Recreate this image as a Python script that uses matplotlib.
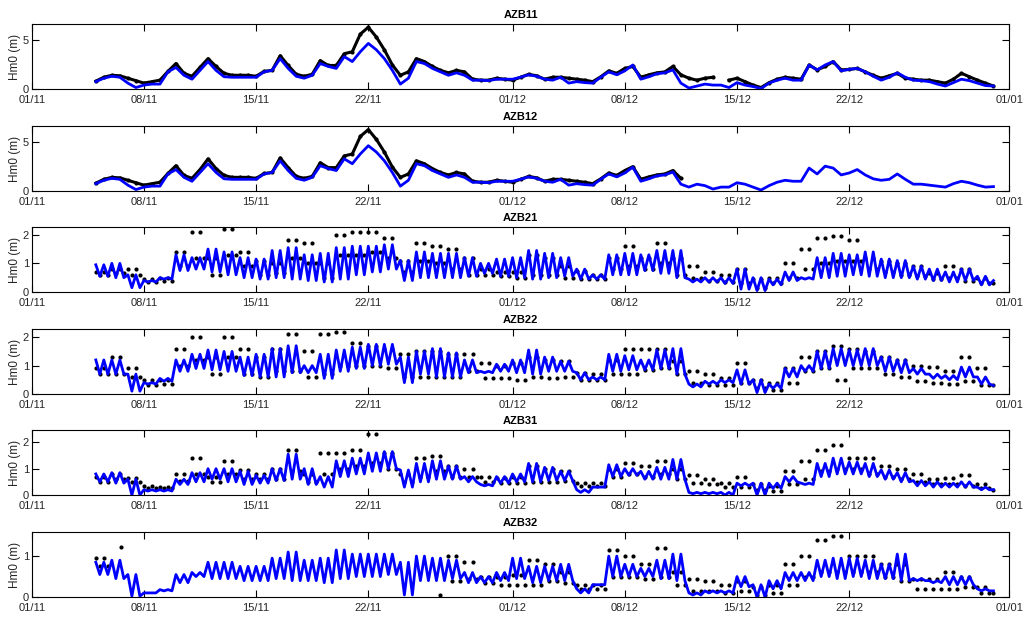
import numpy as np
import matplotlib.pyplot as plt

plt.rcParams['font.family'] = ['Liberation Sans', 'DejaVu Sans']

# station names, one panel each
stations = ['AZB11', 'AZB12', 'AZB21', 'AZB22', 'AZB31', 'AZB32']
ymax = [6.63, 6.67, 2.27, 2.29, 2.47, 1.59]
yticks = [[0, 5], [0, 5], [0, 1, 2], [0, 1, 2], [0, 1, 2], [0, 1]]

# x axis: days since 01/11
tick_days = [0, 7, 14, 21, 30, 37, 44, 51, 61]
tick_labels = ['01/11', '08/11', '15/11', '22/11', '01/12', '08/12', '15/12', '22/12', '01/01']

nan = np.nan

# AZB11 / AZB12 : values every 12 h from day 4 to day 60
azb11_mod = [0.75, 1.1, 1.3, 1.2, 0.6, 0.15, 0.4, 0.5, 0.5, 1.75,
             2.2, 1.4, 1.0, 1.9, 2.8, 1.9, 1.25, 1.2, 1.2, 1.2,
             1.2, 1.75, 1.9, 3.1, 2.1, 1.3, 1.1, 1.4, 2.6, 2.3,
             2.1, 3.3, 2.8, 3.8, 4.65, 4.0, 3.1, 1.9, 0.5, 1.1,
             2.8, 2.6, 2.1, 1.75, 1.4, 1.65, 1.4, 0.9, 0.9, 0.85,
             1.0, 1.0, 1.0, 1.2, 1.45, 1.3, 1.0, 0.9, 1.2, 0.6,
             0.75, 0.65, 0.6, 1.2, 1.75, 1.45, 1.85, 2.45, 1.0, 1.25,
             1.55, 1.65, 1.95, 0.6, 0.1, 0.3, 0.5, 0.4, 0.4, 0.15,
             0.65, 0.4, 0.25, 0.05, 0.6, 0.9, 1.1, 0.9, 0.9, 2.45,
             1.95, 2.45, 2.8, 1.85, 2.0, 2.1, 1.75, 1.3, 0.9, 1.2,
             1.65, 1.2, 0.9, 0.85, 0.75, 0.5, 0.3, 0.65, 1.0, 0.85,
             0.6, 0.35, 0.3]
azb11_obs = [0.8, 1.2, 1.4, 1.35, 1.1, 0.85, 0.6, 0.75, 0.9, 1.8,
             2.6, 1.6, 1.3, 2.2, 3.1, 2.3, 1.6, 1.4, 1.4, 1.4,
             1.3, 1.8, 1.9, 3.4, 2.4, 1.5, 1.3, 1.5, 2.9, 2.4,
             2.4, 3.6, 3.8, 5.6, 6.3, 5.3, 4.0, 2.45, 1.4, 1.75,
             3.1, 2.8, 2.3, 1.9, 1.65, 1.9, 1.75, 1.0, 0.9, 0.9,
             1.1, 1.0, 0.9, 1.2, 1.5, 1.35, 1.0, 1.2, 1.2, 1.1,
             1.0, 0.9, 0.75, 1.25, 1.85, 1.6, 2.1, 2.3, 1.2, 1.45,
             1.65, 1.75, 2.3, 1.45, 1.1, 0.9, 1.1, 1.2, nan, 0.9,
             1.1, 0.75, 0.4, 0.15, 0.65, 1.0, 1.2, 1.1, 1.0, 2.45,
             1.95, 2.3, 2.8, 1.95, 2.0, 2.1, 1.75, 1.4, 1.1, 1.35,
             1.6, 1.1, 1.0, 0.9, 0.9, 0.75, 0.6, 1.0, 1.6, 1.25,
             0.9, 0.6, 0.3]
azb12_mod = [0.75, 1.1, 1.3, 1.2, 0.6, 0.15, 0.4, 0.5, 0.5, 1.75,
             2.2, 1.4, 1.0, 1.9, 2.8, 1.9, 1.25, 1.2, 1.2, 1.2,
             1.2, 1.75, 1.9, 3.1, 2.1, 1.3, 1.1, 1.4, 2.6, 2.3,
             2.1, 3.3, 2.8, 3.8, 4.65, 4.0, 3.1, 1.9, 0.5, 1.1,
             2.8, 2.6, 2.1, 1.75, 1.4, 1.65, 1.4, 0.9, 0.9, 0.85,
             1.0, 1.0, 1.0, 1.2, 1.45, 1.3, 1.0, 0.9, 1.2, 0.6,
             0.75, 0.65, 0.6, 1.2, 1.75, 1.45, 1.85, 2.45, 1.0, 1.25,
             1.55, 1.65, 1.95, 0.7, 0.4, 0.7, 0.55, 0.2, 0.4, 0.4,
             0.85, 0.7, 0.4, 0.1, 0.55, 0.9, 1.1, 1.0, 1.0, 2.35,
             1.75, 2.55, 2.35, 1.65, 1.85, 2.2, 1.65, 1.25, 1.1, 1.2,
             1.75, 1.2, 0.7, 0.7, 0.6, 0.5, 0.4, 0.75, 1.0, 0.85,
             0.6, 0.4, 0.45]
azb12_obs = [0.8, 1.2, 1.4, 1.35, 1.1, 0.85, 0.6, 0.75, 0.9, 1.8,
             2.6, 1.6, 1.3, 2.2, 3.3, 2.3, 1.6, 1.4, 1.4, 1.4,
             1.3, 1.8, 1.9, 3.4, 2.4, 1.5, 1.3, 1.5, 2.9, 2.4,
             2.4, 3.6, 3.8, 5.6, 6.3, 5.3, 4.0, 2.45, 1.4, 1.75,
             3.1, 2.8, 2.3, 1.9, 1.65, 1.9, 1.75, 1.0, 0.9, 0.9,
             1.1, 1.0, 0.9, 1.2, 1.5, 1.35, 1.0, 1.2, 1.2, 1.1,
             1.0, 0.9, 0.75, 1.25, 1.85, 1.6, 2.1, 2.5, 1.2, 1.45,
             1.65, 1.75, 2.1, 1.3, nan, nan, nan, nan, nan, nan,
             nan, nan, nan, nan, nan, nan, nan, nan, nan, nan,
             nan, nan, nan, nan, nan, nan, nan, nan, nan, nan,
             nan, nan, nan, nan, nan, nan, nan, nan, nan, nan,
             nan, nan, nan]

# tidal stations: daily high / low of the semi-diurnal swing, days 4..59, plus value at day 60
azb21_mod_hi = [0.95, 1.0, 0.6, 0.4, 0.5, 1.3, 1.2, 1.5, 1.4, 1.2,
                1.15, 1.45, 1.55, 1.3, 1.35, 1.55, 1.6, 1.6, 1.65, 1.1,
                1.4, 1.35, 1.35, 1.2, 1.0, 1.15, 1.2, 1.45, 1.35, 1.2,
                0.8, 0.6, 1.3, 1.35, 1.3, 1.45, 1.45, 0.45, 0.5, 0.5,
                0.8, 0.5, 0.45, 0.7, 0.5, 1.2, 1.35, 1.3, 1.4, 1.15,
                1.1, 0.9, 0.8, 0.7, 0.8, 0.55]
azb21_mod_lo = [0.55, 0.5, 0.15, 0.35, 0.45, 0.75, 0.8, 0.7, 0.6, 0.5,
                0.45, 0.5, 0.45, 0.4, 0.35, 0.45, 0.6, 0.7, 0.8, 0.4,
                0.5, 0.5, 0.5, 0.55, 0.65, 0.55, 0.5, 0.45, 0.5, 0.55,
                0.45, 0.45, 0.6, 0.6, 0.75, 0.65, 0.5, 0.35, 0.35, 0.3,
                0.1, 0.05, 0.25, 0.4, 0.45, 0.5, 0.55, 0.6, 0.55, 0.5,
                0.5, 0.45, 0.4, 0.35, 0.4, 0.25]
azb21_mod_end = 0.4
azb21_obs_hi = [0.7, 0.8, 0.8, 0.45, 0.5, 1.4, 2.1, 1.2, 2.2, 1.4,
                1.1, 1.0, 1.8, 1.7, 1.0, 2.0, 2.1, 2.1, 1.9, 1.1,
                1.7, 1.6, 1.5, 1.2, 0.8, 0.7, 0.7, 1.3, 1.2, 0.9,
                0.75, 0.6, 1.2, 1.6, 1.2, 1.7, 1.2, 0.9, 0.7, 0.6,
                0.8, 0.45, 0.5, 1.0, 1.5, 1.9, 1.95, 1.8, 1.2, 1.1,
                1.0, 0.9, 0.65, 0.9, 0.8, 0.5]
azb21_obs_lo = [0.6, 0.65, 0.6, 0.35, 0.4, 0.9, 1.2, 0.6, 1.3, 0.9,
                0.6, 0.65, 1.2, 1.0, 0.5, 1.3, 1.3, 1.4, 1.2, 0.7,
                1.1, 1.0, 0.8, 0.6, 0.6, 0.55, 0.5, 0.6, 0.6, 0.5,
                0.45, 0.45, 0.8, 0.9, 0.8, 1.0, 0.6, 0.5, 0.4, 0.35,
                0.3, 0.15, 0.3, 0.5, 0.8, 1.0, 1.1, 1.1, 0.8, 0.7,
                0.6, 0.55, 0.45, 0.5, 0.4, 0.3]
azb21_obs_end = 0.3

azb22_mod_hi = [1.2, 1.2, 0.7, 0.4, 0.55, 1.2, 1.4, 1.55, 1.5, 1.3,
                1.4, 1.6, 1.7, 1.0, 1.4, 1.55, 1.65, 1.75, 1.75, 1.3,
                1.5, 1.6, 1.45, 1.2, 0.8, 1.05, 1.2, 1.55, 1.3, 1.15,
                0.75, 0.6, 1.4, 1.35, 1.2, 1.55, 1.6, 0.35, 0.45, 0.5,
                0.85, 0.5, 0.35, 0.9, 1.0, 1.5, 1.6, 1.55, 1.6, 1.3,
                1.2, 0.9, 0.7, 0.65, 0.95, 0.6]
azb22_mod_lo = [0.7, 0.7, 0.1, 0.35, 0.45, 0.8, 0.9, 0.85, 0.8, 0.65,
                0.6, 0.6, 0.75, 0.75, 0.55, 0.8, 0.9, 1.0, 1.05, 0.4,
                0.7, 0.6, 0.6, 0.75, 0.75, 0.8, 0.75, 0.7, 0.8, 0.8,
                0.5, 0.5, 0.8, 0.85, 0.85, 0.9, 0.7, 0.25, 0.35, 0.4,
                0.35, 0.05, 0.2, 0.6, 0.8, 0.9, 1.0, 1.0, 1.0, 0.8,
                0.75, 0.7, 0.55, 0.5, 0.6, 0.35]
azb22_mod_end = 0.3
azb22_obs_hi = [0.9, 1.3, 0.9, 0.5, 0.5, 1.6, 2.0, 1.3, 2.0, 1.6,
                1.3, 1.6, 2.1, 1.5, 2.1, 2.2, 1.8, 1.7, 1.6, 1.4,
                1.5, 1.5, 1.4, 1.4, 1.1, 1.0, 1.1, 1.3, 1.2, 1.15,
                0.75, 0.7, 1.2, 1.6, 1.6, 1.6, 1.15, 0.8, 0.7, 0.55,
                1.1, 0.5, 0.4, 0.9, 1.3, 1.5, 1.7, 1.6, 1.5, 1.3,
                1.2, 1.0, 0.95, 0.8, 1.3, 0.9]
azb22_obs_lo = [0.7, 0.7, 0.6, 0.3, 0.35, 1.0, 1.2, 0.7, 1.3, 0.7,
                0.6, 0.8, 0.8, 0.6, 0.7, 1.0, 1.0, 1.0, 0.9, 0.6,
                0.6, 0.6, 0.6, 0.8, 0.55, 0.55, 0.5, 0.6, 0.55, 0.6,
                0.5, 0.5, 0.7, 0.7, 0.85, 0.9, 0.7, 0.4, 0.3, 0.3,
                0.4, 0.2, 0.15, 0.4, 0.8, 0.9, 0.5, 0.9, 0.9, 0.7,
                0.6, 0.45, 0.4, 0.35, 0.45, 0.3]
azb22_obs_end = 0.3

azb31_mod_hi = [0.8, 0.85, 0.6, 0.2, 0.2, 0.6, 0.85, 1.0, 1.0, 0.9,
                0.75, 1.0, 1.55, 1.0, 0.7, 1.3, 1.4, 1.6, 1.65, 0.95,
                1.2, 1.3, 1.1, 0.7, 0.4, 0.7, 0.8, 1.2, 1.05, 0.9,
                0.2, 0.3, 1.15, 1.0, 0.9, 1.05, 1.35, 0.1, 0.1, 0.1,
                0.45, 0.45, 0.45, 0.7, 0.45, 1.2, 1.4, 1.25, 1.2, 0.95,
                0.85, 0.55, 0.5, 0.45, 0.5, 0.3]
azb31_mod_lo = [0.5, 0.45, 0.0, 0.15, 0.15, 0.4, 0.5, 0.6, 0.5, 0.4,
                0.45, 0.55, 0.6, 0.4, 0.3, 0.7, 0.8, 0.9, 1.0, 0.3,
                0.5, 0.6, 0.6, 0.5, 0.35, 0.45, 0.5, 0.5, 0.55, 0.55,
                0.1, 0.3, 0.7, 0.75, 0.6, 0.6, 0.6, 0.05, 0.05, 0.0,
                0.35, 0.0, 0.25, 0.5, 0.4, 0.7, 0.8, 0.8, 0.7, 0.6,
                0.5, 0.35, 0.3, 0.3, 0.3, 0.2]
azb31_mod_end = 0.2
azb31_obs_hi = [0.7, 0.8, 0.65, 0.35, 0.3, 0.8, 1.4, 0.7, 1.3, 0.95,
                0.8, 1.0, 1.7, 0.8, 1.6, 1.6, 1.7, 2.3, 1.6, 0.8,
                1.4, 1.5, 1.1, 1.0, 0.7, 0.65, 0.7, 1.1, 1.0, 0.9,
                0.45, 0.45, 1.0, 1.2, 1.1, 1.3, 1.0, 0.75, 0.6, 0.45,
                0.7, 0.4, 0.35, 0.9, 1.3, 1.7, 1.9, 1.4, 1.4, 1.1,
                1.0, 0.8, 0.6, 0.65, 0.75, 0.4]
azb31_obs_lo = [0.5, 0.6, 0.5, 0.25, 0.25, 0.55, 0.8, 0.5, 0.8, 0.6,
                0.6, 0.6, 0.9, 0.5, 0.8, 1.0, 1.1, 1.2, 1.0, 0.5,
                0.7, 0.9, 0.7, 0.7, 0.5, 0.45, 0.45, 0.5, 0.5, 0.55,
                0.35, 0.35, 0.7, 0.8, 0.7, 0.8, 0.6, 0.45, 0.4, 0.3,
                0.3, 0.2, 0.15, 0.4, 0.6, 0.9, 1.0, 1.0, 0.8, 0.7,
                0.6, 0.5, 0.4, 0.4, 0.35, 0.25]
azb31_obs_end = 0.2

azb32_mod_hi = [0.85, 0.9, 0.55, 0.1, 0.18, 0.55, 0.6, 0.85, 0.85, 0.75,
                0.75, 0.95, 1.1, 0.9, 0.95, 1.15, 1.05, 1.05, 1.05, 0.85,
                1.0, 0.95, 0.9, 0.6, 0.5, 0.6, 0.95, 0.75, 0.75, 0.8,
                0.2, 0.3, 1.0, 0.8, 0.7, 0.9, 1.05, 0.1, 0.15, 0.15,
                0.5, 0.3, 0.4, 0.6, 0.6, 0.9, 0.95, 0.95, 0.9, 0.8,
                1.05, 0.45, 0.4, 0.5, 0.5, 0.2]
azb32_mod_lo = [0.55, 0.45, 0.02, 0.1, 0.15, 0.35, 0.5, 0.45, 0.45, 0.4,
                0.4, 0.45, 0.4, 0.4, 0.35, 0.45, 0.5, 0.5, 0.55, 0.05,
                0.4, 0.4, 0.45, 0.35, 0.35, 0.4, 0.45, 0.35, 0.4, 0.4,
                0.1, 0.3, 0.5, 0.5, 0.5, 0.45, 0.4, 0.05, 0.1, 0.1,
                0.25, 0.0, 0.2, 0.4, 0.4, 0.5, 0.45, 0.5, 0.45, 0.45,
                0.4, 0.4, 0.35, 0.3, 0.3, 0.15]
azb32_mod_end = 0.15
azb32_obs_hi = [0.95, nan, nan, nan, nan, nan, nan, nan, nan, nan,
                nan, nan, nan, nan, nan, nan, nan, nan, nan, nan,
                nan, nan, 1.0, 0.85, 0.5, 0.5, 0.55, 0.9, 0.8, 0.6,
                0.3, 0.3, 1.15, 1.0, 0.8, 1.2, 0.6, 0.45, 0.4, 0.3,
                0.4, 0.25, 0.3, 0.8, 1.0, 1.4, 1.5, 1.0, 1.0, 0.8,
                0.8, 0.45, 0.45, 0.6, 0.5, 0.25]
azb32_obs_lo = [0.75, nan, nan, nan, nan, nan, nan, nan, nan, nan,
                nan, nan, nan, nan, nan, nan, nan, nan, nan, nan,
                nan, nan, 0.4, 0.45, 0.35, 0.3, 0.3, 0.3, 0.4, 0.35,
                0.2, 0.2, 0.5, 0.5, 0.45, 0.5, 0.3, 0.15, 0.15, 0.1,
                0.15, 0.05, 0.1, 0.3, 0.5, 0.6, 0.6, 0.6, 0.6, 0.5,
                0.4, 0.2, 0.2, 0.2, 0.25, 0.1]
azb32_obs_end = 0.1
# isolated AZB32 observations outside the record
azb32_extra_day = [5.56, 25.45]
azb32_extra_val = [1.22, 0.05]


def halfday(values):
    t = 4 + 0.5 * np.arange(len(values))
    return t, np.array(values, dtype=float)


def tidal(hi, lo, end):
    days = np.arange(4, 4 + len(hi))
    t = (days[:, None] + np.array([0, 0.25, 0.5, 0.75])).ravel()
    v = np.column_stack([hi, lo, hi, lo]).ravel()
    return np.append(t, days[-1] + 1), np.append(v, end)


series = [
    (halfday(azb11_mod), halfday(azb11_obs)),
    (halfday(azb12_mod), halfday(azb12_obs)),
    (tidal(azb21_mod_hi, azb21_mod_lo, azb21_mod_end), tidal(azb21_obs_hi, azb21_obs_lo, azb21_obs_end)),
    (tidal(azb22_mod_hi, azb22_mod_lo, azb22_mod_end), tidal(azb22_obs_hi, azb22_obs_lo, azb22_obs_end)),
    (tidal(azb31_mod_hi, azb31_mod_lo, azb31_mod_end), tidal(azb31_obs_hi, azb31_obs_lo, azb31_obs_end)),
    (tidal(azb32_mod_hi, azb32_mod_lo, azb32_mod_end), tidal(azb32_obs_hi, azb32_obs_lo, azb32_obs_end)),
]

W, H = 1034, 622
fig = plt.figure(figsize=(W / 100, H / 100), dpi=100)
tops = [24, 126, 227, 329, 430, 532]
left, right, hgt = 31.7, 1009.5, 65

for i, name in enumerate(stations):
    ax = fig.add_axes([left / W, 1 - (tops[i] + hgt) / H, (right - left) / W, hgt / H])
    (tm, vm), (to, vo) = series[i]
    if i < 2:
        ax.plot(to, vo, color='k', lw=2.2, marker='o', ms=3, mew=0)
    else:
        ax.plot(to, vo, 'o', color='k', ms=3, mew=0)
    if i == 5:
        ax.plot(azb32_extra_day, azb32_extra_val, 'o', color='k', ms=3, mew=0)
    ax.plot(tm, vm, color='#0000ff', lw=2)

    ax.set_xlim(0, 61)
    ax.set_ylim(0, ymax[i])
    ax.set_xticks(tick_days)
    ax.set_xticklabels(tick_labels)
    ax.set_yticks(yticks[i])
    ax.tick_params(direction='in', top=True, right=True, length=5, width=0.8,
                   labelsize=8, labelcolor='#262626')
    ax.tick_params(axis='x', pad=4)
    ax.tick_params(axis='y', pad=2)
    for s in ax.spines.values():
        s.set_linewidth(0.8)
    ax.set_title(name, fontsize=8, fontweight='bold', pad=4)
    ax.set_ylabel('Hm0 (m)', fontsize=8.5, labelpad=1, color='#262626')

fig.savefig('out.png', dpi=100)
